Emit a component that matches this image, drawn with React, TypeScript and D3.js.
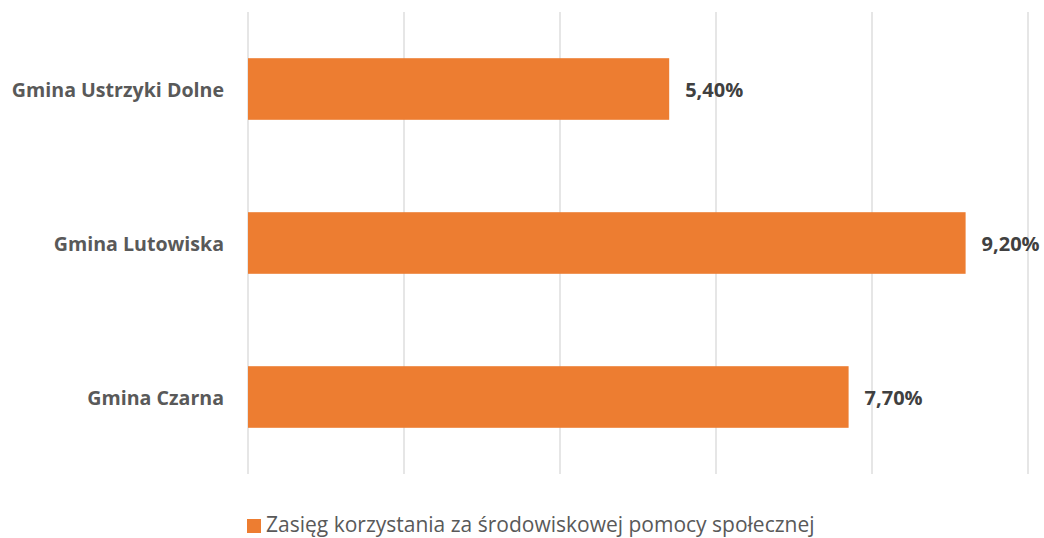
import React from "react";
import * as d3 from "d3";

const categories = ["Gmina Ustrzyki Dolne", "Gmina Lutowiska", "Gmina Czarna"];
const values = [5.4, 9.2, 7.7];
const ticks = [0, 2, 4, 6, 8, 10];
const seriesName = "Zasięg korzystania za środowiskowej pomocy społecznej";

const W = 1044;
const H = 538;
const left = 248;
const right = 1028;
const top = 12;
const bottom = 474;
const color = "#ED7D31";
const font = "'Open Sans', sans-serif";

export default function App() {
  const x = d3.scaleLinear().domain([0, 10]).range([left, right]);
  const y = d3.scaleBand<string>().domain(categories).range([top, bottom]).paddingInner(0.6).paddingOuter(0.3);
  const fmt = (v: number) => v.toFixed(2).replace(".", ",") + "%";
  return (
    <svg width={W} height={H} style={{ position: "absolute", left: 0, top: 0, background: "#fff" }}>
      {ticks.map((t) => (
        <line key={t} x1={x(t)} x2={x(t)} y1={top} y2={bottom} stroke="#d9d9d9" strokeWidth={1.3} />
      ))}
      {categories.map((c, i) => (
        <g key={c}>
          <rect x={x(0)} y={y(c)!} width={x(values[i]) - x(0)} height={y.bandwidth()} fill={color} />
          <text
            x={224}
            y={y(c)! + y.bandwidth() / 2}
            textAnchor="end"
            dominantBaseline="central"
            fontFamily={font}
            fontWeight="bold"
            fontSize={19.6}
            fill="#595959"
          >
            {c}
          </text>
          <text
            x={x(values[i]) + 16}
            y={y(c)! + y.bandwidth() / 2}
            dominantBaseline="central"
            fontFamily={font}
            fontWeight="bold"
            fontSize={20}
            fill="#404040"
          >
            {fmt(values[i])}
          </text>
        </g>
      ))}
      <rect x={247} y={519} width={14} height={14} fill={color} />
      <text x={266} y={532} fontFamily={font} fontSize={21} fill="#595959">
        {seriesName}
      </text>
    </svg>
  );
}
